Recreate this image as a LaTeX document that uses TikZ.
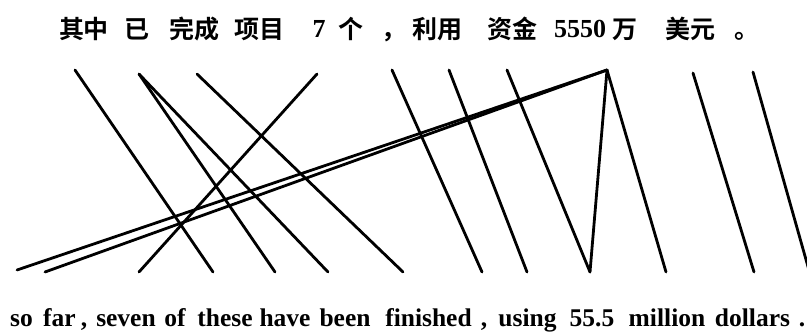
\documentclass[tikz,border=0pt]{standalone}
\usepackage{fontspec}
\setmainfont{Liberation Serif}
\newfontfamily\cjkfont{Noto Sans CJK SC}[BoldFont={* Bold}]
\begin{document}
\begin{tikzpicture}[x=1pt,y=-1pt,
  zh/.style={inner sep=0pt,anchor=base,font=\cjkfont\bfseries\fontsize{25}{27}\selectfont},
  num/.style={inner sep=0pt,anchor=base,font=\bfseries\fontsize{26}{28}\selectfont},
  en/.style={inner sep=0pt,anchor=base,font=\bfseries\fontsize{25.5}{27}\selectfont},
  link/.style={line width=2.8pt,line cap=round}]
\useasboundingbox (0,0) rectangle (807,335);
% top sentence
\node[zh]  (z1)  at (84,38)  {其中};
\node[zh]  (z2)  at (137,38) {已};
\node[zh]  (z3)  at (194,38) {完成};
\node[zh]  (z4)  at (259,38) {项目};
\node[num] (z5)  at (319,37) {7};
\node[zh]  (z6)  at (351,38) {个};
\node[zh]  (z7)  at (394,38) {，};
\node[zh]  (z8)  at (437,38) {利用};
\node[zh]  (z9)  at (512,38) {资金};
\node[num] (z10) at (580,37) {5550};
\node[zh]  (z11) at (625,38) {万};
\node[zh]  (z12) at (690,38) {美元};
\node[zh]  (z13) at (747,38) {。};
% bottom sentence
\node[en] (e1)  at (21.5,326) {so};
\node[en] (e2)  at (59.5,326) {far};
\node[en] (e3)  at (84,326)   {,};
\node[en] (e4)  at (126,326)  {seven};
\node[en] (e5)  at (175,326)  {of};
\node[en] (e6)  at (225,326)  {these};
\node[en] (e7)  at (285,326)  {have};
\node[en] (e8)  at (345,326)  {been};
\node[en] (e9)  at (428.5,326){finished};
\node[en] (e10) at (484,326)  {,};
\node[en] (e11) at (527.5,326){using};
\node[en] (e12) at (592,326)  {55.5};
\node[en] (e13) at (667,326)  {million};
\node[en] (e14) at (752.5,326){dollars};
\node[en] (e15) at (802,326)  {.};
% alignment end points
\coordinate (tA) at (75,70);
\coordinate (tB) at (139,74);
\coordinate (tC) at (197,74);
\coordinate (tD) at (317,74);
\coordinate (tE) at (392,70);
\coordinate (tF) at (449,70);
\coordinate (tG) at (507,70);
\coordinate (tH) at (607,70);
\coordinate (tI) at (693,73);
\coordinate (tJ) at (753,72);
\coordinate (b1)  at (17,270);
\coordinate (b2)  at (45,272);
\coordinate (b3)  at (139,272);
\coordinate (b4)  at (213,272);
\coordinate (b5)  at (275,272);
\coordinate (b6)  at (328,272);
\coordinate (b7)  at (403,272);
\coordinate (b8)  at (482,272);
\coordinate (b9)  at (527,272);
\coordinate (b10) at (590,272);
\coordinate (b11) at (666,272);
\coordinate (b12) at (754,272);
\coordinate (b13) at (809.5,272);
% alignment links
\draw[link] (tA) -- (b4);
\draw[link] (tB) -- (b5);
\draw[link] (tB) -- (b6);
\draw[link] (tC) -- (b7);
\draw[link] (tD) -- (b3);
\draw[link] (tE) -- (b8);
\draw[link] (tF) -- (b9);
\draw[link] (tG) -- (b10);
\draw[link] (tH) -- (b10);
\draw[link] (tH) -- (b11);
\draw[link] (tI) -- (b12);
\draw[link] (tJ) -- (b13);
\draw[link] (tH) -- (b1);
\draw[link] (tH) -- (b2);
\end{tikzpicture}
\end{document}
